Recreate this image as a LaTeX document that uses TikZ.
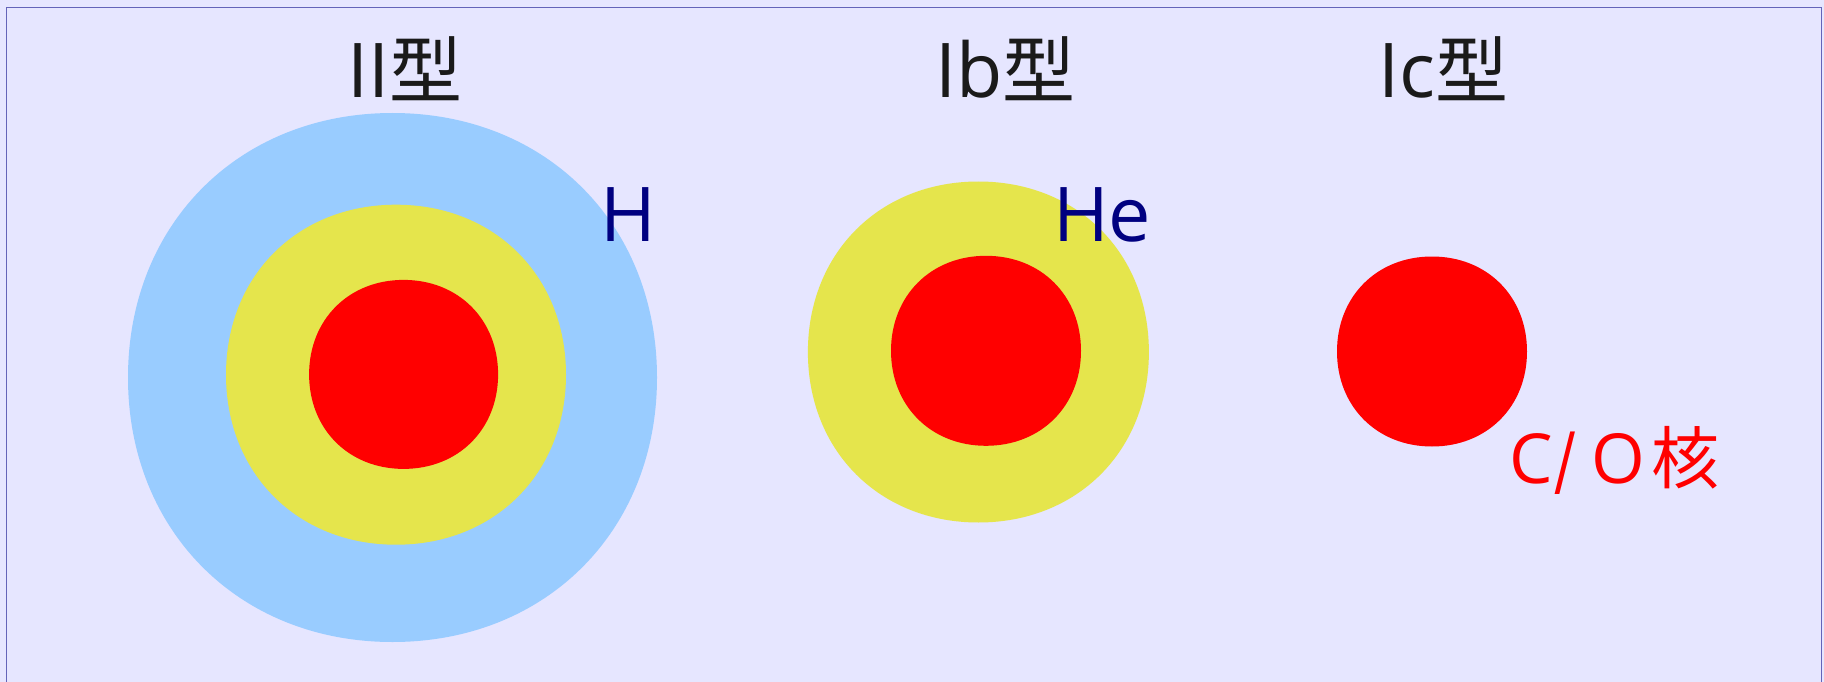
\documentclass[tikz,border=0pt]{standalone}
\usepackage{fontspec}
\usepackage{graphicx}
\newfontfamily\cjk{Noto Sans CJK JP}
\newfontfamily\lat{Open Sans}
\definecolor{bgc}{RGB}{230,230,255}
\definecolor{framec}{RGB}{100,100,185}
\definecolor{hcol}{RGB}{153,204,255}
\definecolor{hecol}{RGB}{229,229,76}
\definecolor{cocol}{RGB}{255,0,0}
\definecolor{titlec}{RGB}{26,26,26}
\definecolor{labc}{RGB}{0,0,128}
\newcommand\latsz{\lat\fontsize{75.5}{80}\selectfont}
\newcommand\cjksz{\cjk\fontsize{73}{80}\selectfont}
\tikzset{
  squircle/.pic={
    \path[pic actions] (1,0) .. controls (1,0.58) and (0.58,1) .. (0,1)
      .. controls (-0.58,1) and (-1,0.58) .. (-1,0)
      .. controls (-1,-0.58) and (-0.58,-1) .. (0,-1)
      .. controls (0.58,-1) and (1,-0.58) .. (1,0) -- cycle;
  },
  title/.style={text=titlec, inner sep=0pt, anchor=base},
  lab/.style={font=\latsz, text=labc, inner sep=0pt, anchor=base west},
  colab/.style={text=cocol, inner sep=0pt, anchor=base west}
}
\begin{document}
\begin{tikzpicture}[x=1pt,y=-1pt]
\useasboundingbox (0,0) rectangle (1824,682);
\fill[bgc] (0,0) rectangle (1824,682);
\begin{scope}
\clip (0,0) rectangle (1824,682);
\draw[framec, line width=1.4pt] (6.7,7.6) rectangle (1821.3,720);
\end{scope}
% II type
\pic[fill=hcol, scale=264.5] at (392.5,377.5) {squircle};
\pic[fill=hecol, scale=170] at (396,374.7) {squircle};
\pic[fill=cocol, scale=94.5] at (403.6,374.4) {squircle};
% Ib type
\pic[fill=hecol, scale=170.5] at (978.4,352) {squircle};
\pic[fill=cocol, scale=95] at (986,350.8) {squircle};
% Ic type
\pic[fill=cocol, scale=95] at (1432,351.5) {squircle};
% titles
\node[title] (t2) at (405.4,97.7) {{\latsz II}{\cjksz 型}};
\node[title] (tb) at (1005.4,97.7) {{\latsz Ib}{\cjksz 型}};
\node[title] (tc) at (1443.7,97.7) {{\latsz Ic}{\cjksz 型}};
% labels
\node[lab] (lh) at (600,241) {H};
\node[lab] (lhe) at (1053,241) {He};
\node[colab] (lco) at (1509,483) {{\lat\fontsize{69}{76}\selectfont C\kern2pt\raisebox{-11pt}{\scalebox{0.85}[1.27]{/}}\kern15pt O}\kern6pt{\cjk\fontsize{68}{76}\selectfont 核}};
\end{tikzpicture}
\end{document}
